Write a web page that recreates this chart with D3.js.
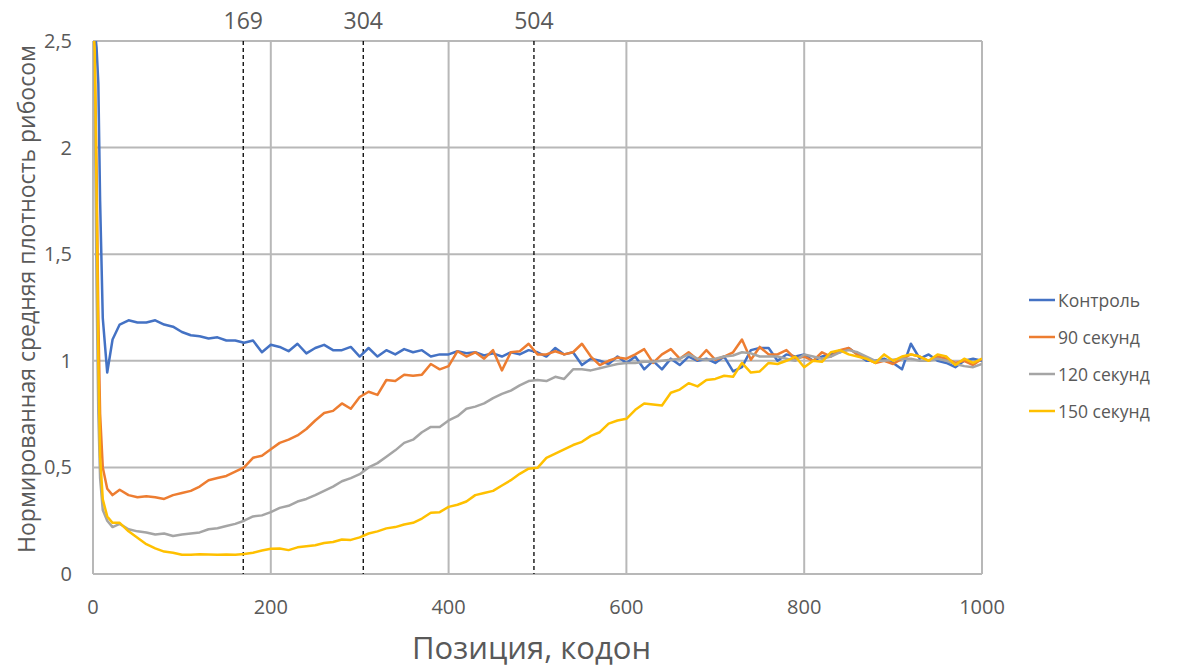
<!DOCTYPE html>
<html>
<head>
<meta charset="utf-8">
<script src="https://cdn.jsdelivr.net/npm/d3@7"></script>
<style>
  body { margin: 0; background: #fff; }
  text { font-family: "Open Sans", "Noto Sans", sans-serif; fill: #595959; }
</style>
</head>
<body>
<div id="chart"></div>
<script>
// codon positions
var positions = [0, 2, 4, 6, 8, 11, 16, 22,
  30, 40, 50, 60, 70, 80, 90, 100, 110, 120,
  130, 140, 150, 160, 170, 180, 190, 200, 210, 220,
  230, 240, 250, 260, 270, 280, 290, 300, 310, 320,
  330, 340, 350, 360, 370, 380, 390, 400, 410, 420,
  430, 440, 450, 460, 470, 480, 490, 500, 510, 520,
  530, 540, 550, 560, 570, 580, 590, 600, 610, 620,
  630, 640, 650, 660, 670, 680, 690, 700, 710, 720,
  730, 740, 750, 760, 770, 780, 790, 800, 810, 820,
  830, 840, 850, 860, 870, 880, 890, 900, 910, 920,
  930, 940, 950, 960, 970, 980, 990, 1000];

var control = [2.6, 2.55, 2.47, 2.3, 1.75, 1.2, 0.945, 1.1,
  1.17, 1.19, 1.18, 1.18, 1.19, 1.17, 1.16, 1.135, 1.12, 1.115,
  1.105, 1.11, 1.095, 1.095, 1.085, 1.095, 1.04, 1.075, 1.065, 1.045,
  1.08, 1.035, 1.06, 1.075, 1.05, 1.05, 1.065, 1.02, 1.06, 1.02,
  1.05, 1.03, 1.055, 1.04, 1.05, 1.02, 1.03, 1.03, 1.045, 1.035,
  1.04, 1.025, 1.035, 1.02, 1.04, 1.03, 1.05, 1.04, 1.02, 1.06,
  1.03, 1.04, 0.98, 1.01, 1.0, 0.985, 1.02, 0.99, 1.02, 0.96,
  1.0, 0.96, 1.01, 0.98, 1.02, 1.0, 1.01, 0.99, 1.02, 0.95,
  0.97, 1.05, 1.06, 1.06, 1.0, 1.03, 1.02, 1.03, 1.0, 1.02,
  1.03, 1.04, 1.06, 1.03, 1.0, 1.0, 1.01, 0.99, 0.96, 1.08,
  1.01, 1.03, 1.0, 0.99, 0.97, 1.0, 1.01, 1.0];

var sec90 = [2.6, 2.4, 1.9, 1.2, 0.75, 0.5, 0.4, 0.37,
  0.395, 0.37, 0.36, 0.365, 0.36, 0.352, 0.37, 0.38, 0.39, 0.41,
  0.44, 0.45, 0.46, 0.48, 0.5, 0.545, 0.555, 0.585, 0.615, 0.63,
  0.65, 0.68, 0.72, 0.755, 0.765, 0.8, 0.775, 0.83, 0.855, 0.84,
  0.91, 0.905, 0.935, 0.93, 0.935, 0.985, 0.96, 0.975, 1.045, 1.02,
  1.04, 1.01, 1.05, 0.955, 1.04, 1.045, 1.08, 1.03, 1.03, 1.045,
  1.03, 1.04, 1.08, 1.02, 0.98, 1.0, 1.015, 1.01, 1.03, 1.055,
  0.99, 1.03, 1.055, 1.01, 1.04, 1.005, 1.05, 1.005, 1.02, 1.04,
  1.1, 1.005, 1.065, 1.03, 1.03, 1.05, 1.01, 1.02, 1.0, 1.04,
  1.02, 1.05, 1.06, 1.03, 1.01, 0.99, 1.0, 0.985, 1.01, 1.03,
  1.02, 1.0, 1.02, 1.01, 0.99, 1.0, 0.98, 1.01];

var sec120 = [2.6, 2.2, 1.35, 0.75, 0.45, 0.3, 0.25, 0.22,
  0.235, 0.21, 0.2, 0.195, 0.185, 0.19, 0.178, 0.185, 0.19, 0.195,
  0.21, 0.215, 0.225, 0.235, 0.25, 0.27, 0.275, 0.29, 0.31, 0.32,
  0.34, 0.352, 0.37, 0.39, 0.41, 0.435, 0.45, 0.468, 0.5, 0.52,
  0.55, 0.58, 0.615, 0.63, 0.665, 0.69, 0.69, 0.72, 0.74, 0.775,
  0.785, 0.8, 0.825, 0.845, 0.86, 0.885, 0.905, 0.91, 0.905, 0.925,
  0.915, 0.96, 0.96, 0.955, 0.965, 0.975, 0.985, 0.99, 0.99, 0.995,
  0.995, 1.0, 1.005, 1.01, 1.03, 1.01, 1.005, 1.01, 1.02, 1.025,
  1.04, 1.035, 1.02, 1.02, 1.02, 1.01, 1.0, 1.03, 1.02, 1.01,
  1.02, 1.04, 1.05, 1.04, 1.02, 1.0, 1.0, 1.005, 1.01, 1.01,
  1.0, 1.0, 1.01, 1.0, 0.985, 0.975, 0.97, 0.985];

var sec150 = [2.6, 2.45, 1.8, 1.0, 0.55, 0.35, 0.27, 0.24,
  0.24, 0.2, 0.17, 0.14, 0.12, 0.105, 0.1, 0.09, 0.09, 0.093,
  0.092, 0.09, 0.092, 0.09, 0.094, 0.1, 0.11, 0.118, 0.12, 0.112,
  0.125, 0.13, 0.135, 0.145, 0.15, 0.162, 0.16, 0.172, 0.19, 0.2,
  0.214, 0.22, 0.232, 0.24, 0.26, 0.287, 0.29, 0.315, 0.325, 0.34,
  0.37, 0.38, 0.39, 0.415, 0.44, 0.47, 0.494, 0.498, 0.545, 0.565,
  0.585, 0.605, 0.62, 0.648, 0.665, 0.705, 0.72, 0.728, 0.77, 0.8,
  0.795, 0.79, 0.85, 0.865, 0.895, 0.88, 0.91, 0.915, 0.93, 0.925,
  0.99, 0.945, 0.95, 0.99, 0.985, 1.0, 1.02, 0.97, 1.0, 0.995,
  1.04, 1.05, 1.03, 1.02, 1.01, 0.99, 1.03, 1.0, 1.02, 1.03,
  1.02, 1.0, 1.03, 1.02, 0.98, 1.01, 0.99, 1.01];

var seriesNames = ["Контроль", "90 секунд", "120 секунд", "150 секунд"];
var seriesValues = [control, sec90, sec120, sec150];
var seriesColors = ["#4472C4", "#ED7D31", "#A5A5A5", "#FFC000"];

var xTicks = [0, 200, 400, 600, 800, 1000];
var yTicks = [0, 0.5, 1, 1.5, 2, 2.5];

// marker lines (drawn position, printed label)
var markerPos = [169, 304, 496];
var markerLabels = ["169", "304", "504"];

var svgWidth = 1186;
var svgHeight = 670;
var margin = { top: 41, right: 204, bottom: 96, left: 93 };
var width = svgWidth - margin.left - margin.right;
var height = svgHeight - margin.top - margin.bottom;

var svg = d3.select("#chart")
    .append("svg")
    .attr("width", svgWidth)
    .attr("height", svgHeight);

var chartGroup = svg.append("g")
    .attr("transform", `translate(${margin.left}, ${margin.top})`);

var xScale = d3.scaleLinear().domain([0, 1000]).range([0, width]);
var yScale = d3.scaleLinear().domain([0, 2.5]).range([height, 0]);

svg.append("defs").append("clipPath")
    .attr("id", "plotClip")
    .append("rect")
    .attr("x", 0).attr("y", 0)
    .attr("width", width).attr("height", height);

// grid
chartGroup.selectAll(".hgrid")
    .data(yTicks)
    .enter()
    .append("line")
    .attr("x1", 0).attr("x2", width)
    .attr("y1", d => yScale(d)).attr("y2", d => yScale(d))
    .attr("stroke", "#b8b8b8")
    .attr("stroke-width", 2);

chartGroup.selectAll(".vgrid")
    .data(xTicks)
    .enter()
    .append("line")
    .attr("x1", d => xScale(d)).attr("x2", d => xScale(d))
    .attr("y1", 0).attr("y2", height)
    .attr("stroke", "#b8b8b8")
    .attr("stroke-width", 2);

// tick labels
chartGroup.selectAll(".ylab")
    .data(yTicks)
    .enter()
    .append("text")
    .attr("x", -21)
    .attr("y", d => yScale(d) + 7)
    .attr("text-anchor", "end")
    .style("font-size", "20px")
    .text(d => String(d).replace(".", ","));

chartGroup.selectAll(".xlab")
    .data(xTicks)
    .enter()
    .append("text")
    .attr("x", d => xScale(d))
    .attr("y", height + 40)
    .attr("text-anchor", "middle")
    .style("font-size", "20px")
    .text(d => d);

// dashed markers
chartGroup.selectAll(".marker")
    .data(markerPos)
    .enter()
    .append("line")
    .attr("x1", d => xScale(d)).attr("x2", d => xScale(d))
    .attr("y1", 0).attr("y2", height)
    .attr("stroke", "#000")
    .attr("stroke-width", 1.3)
    .attr("stroke-dasharray", "4,3");

chartGroup.selectAll(".markerLab")
    .data(markerPos)
    .enter()
    .append("text")
    .attr("x", d => xScale(d))
    .attr("y", -12)
    .attr("text-anchor", "middle")
    .style("font-size", "23px")
    .text((d, i) => markerLabels[i]);

// series lines
var line = d3.line()
    .x((d, i) => xScale(positions[i]))
    .y(d => yScale(d));

chartGroup.append("g")
    .attr("clip-path", "url(#plotClip)")
    .selectAll("path")
    .data(seriesValues)
    .enter()
    .append("path")
    .attr("d", d => line(d))
    .attr("fill", "none")
    .attr("stroke", (d, i) => seriesColors[i])
    .attr("stroke-width", 2.5)
    .attr("stroke-linejoin", "round");

// axis titles
svg.append("text")
    .attr("transform", `translate(${margin.left + width / 2 - 6}, 659)`)
    .attr("text-anchor", "middle")
    .style("font-size", "31px")
    .text("Позиция, кодон");

svg.append("text")
    .attr("transform", "translate(35, 299) rotate(-90)")
    .attr("text-anchor", "middle")
    .style("font-size", "23px")
    .text("Нормированная средняя плотность рибосом");

// legend
var legend = svg.selectAll(".legend")
    .data(seriesNames)
    .enter()
    .append("g")
    .attr("transform", (d, i) => `translate(1029, ${300 + i * 37})`);

legend.append("line")
    .attr("x1", 0).attr("x2", 26)
    .attr("y1", 0).attr("y2", 0)
    .attr("stroke", (d, i) => seriesColors[i])
    .attr("stroke-width", 2.5);

legend.append("text")
    .attr("x", 29)
    .attr("y", 7)
    .style("font-size", "17.5px")
    .text(d => d);
</script>
</body>
</html>
